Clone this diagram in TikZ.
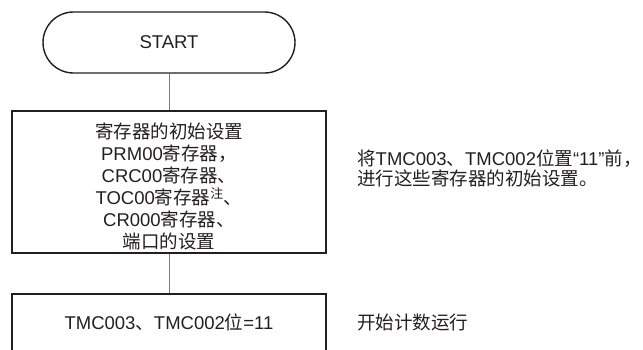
\documentclass[tikz,border=0pt]{standalone}
\usepackage{fontspec}
\setmainfont{Liberation Sans}
\newfontfamily\zhfont{Noto Sans CJK SC}
\newcommand{\zh}[1]{{\zhfont #1}}
\usetikzlibrary{positioning}
\definecolor{flowink}{HTML}{231F20}
\definecolor{flowline}{HTML}{7A7A7A}
\tikzset{
  flowtext/.style={text=flowink,font=\fontsize{18.5}{22}\selectfont},
  terminal/.style={flowtext,draw=flowink,line width=1.4pt,rounded corners=30.5pt,
    minimum width=252pt,minimum height=61pt,inner sep=0pt},
  process/.style={draw=flowink,line width=1.8pt,minimum width=314pt,inner sep=0pt},
  boxtext/.style={flowtext,align=center,inner sep=0pt},
  note/.style={flowtext,font=\fontsize{18.5}{20.5}\selectfont,anchor=west,align=left,inner sep=0pt},
  link/.style={draw=flowline,line width=0.9pt}
}

\begin{document}
\begin{tikzpicture}[x=1pt,y=-1pt]
  \useasboundingbox (0,0) rectangle (643,349);
  \node[terminal] (start) at (169,42.5) {START};
  \node[process,minimum height=142pt] (init) at (169,182) {};
  \node[boxtext] (inittext) at (169,186.5) {\zh{寄存器的初始设置}\\
    PRM00\zh{寄存器，}\\
    CRC00\zh{寄存器、}\\
    TOC00\zh{寄存器}\textsuperscript{\zh{注}}\zh{、}\\
    CR000\zh{寄存器、}\\
    \zh{端口的设置}};
  \node[process,minimum height=58pt] (run) at (169,323) {};
  \node[boxtext] (runtext) at (169,322) {TMC003\zh{、}TMC002\zh{位}=11};
  \node[note] (initnote) at (357,168.5) {\zh{将}TMC003\zh{、}TMC002\zh{位置}“11”\zh{前，}\\
    \zh{进行这些寄存器的初始设置。}};
  \node[note] (runnote) at (357,322) {\zh{开始计数运行}};
  \draw[link] (start) -- (init);
  \draw[link] (init) -- (run);
\end{tikzpicture}
\end{document}
